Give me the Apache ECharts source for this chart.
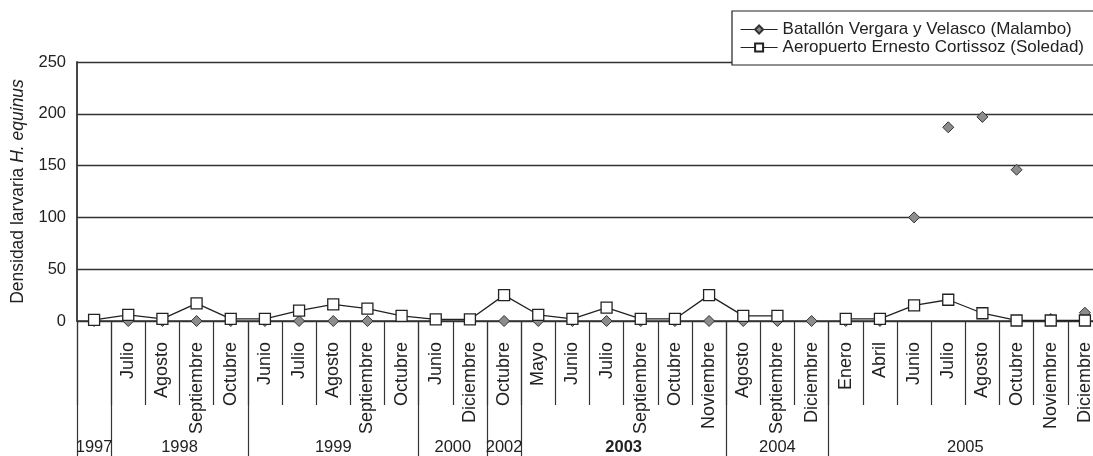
<!DOCTYPE html>
<html>
<head>
<meta charset="utf-8">
<script src="https://cdn.jsdelivr.net/npm/echarts@6/dist/echarts.min.js"></script>
<style>
html,body{margin:0;padding:0;background:#fff;overflow:hidden;width:1093px;height:456px;}
#c{width:1140px;height:456px;}
</style>
</head>
<body>
<div id="c"></div>
<script>
// ---- data ----
const months = ['', 'Julio', 'Agosto', 'Septiembre', 'Octubre',
  'Junio', 'Julio', 'Agosto', 'Septiembre', 'Octubre',
  'Junio', 'Diciembre', 'Octubre',
  'Mayo', 'Junio', 'Julio', 'Septiembre', 'Octubre', 'Noviembre',
  'Agosto', 'Septiembre', 'Diciembre',
  'Enero', 'Abril', 'Junio', 'Julio', 'Agosto', 'Octubre', 'Noviembre', 'Diciembre'];
const years = ['1997', '1998', '1998', '1998', '1998',
  '1999', '1999', '1999', '1999', '1999',
  '2000', '2000', '2002',
  '2003', '2003', '2003', '2003', '2003', '2003',
  '2004', '2004', '2004',
  '2005', '2005', '2005', '2005', '2005', '2005', '2005', '2005'];
const malambo = [0, 0, 0, 0, 0, 0, 0, 0, 0, null, null, null, 0, 0, 0, 0, 0, 0, 0, 0, 0, 0, 0, 0, 100, 187, 197, 146, 2, 8];
const soledad = [1, 6, 2, 17, 2, 2, 10, 16, 12, 5, 1.5, 1.5, 25, 6, 2, 13, 2, 2, 25, 5, 5, null, 2, 2, 15, 20.5, 7.5, 0.5, 0.5, 0.5];
const seriesNames = ['Batallón Vergara y Velasco (Malambo)', 'Aeropuerto Ernesto Cortissoz (Soledad)'];
const yTicks = [0, 50, 100, 150, 200, 250];
const boldYears = ['2003'];

// ---- derive year groups (half-slot axis: 2*N+1 points) ----
const N = months.length;
const yearAxisData = new Array(2 * N + 1).fill('');
const yearBoundaries = new Set();
let start = 0;
for (let i = 1; i <= N; i++) {
  if (i === N || years[i] !== years[start]) {
    yearAxisData[start + i] = years[start];
    yearBoundaries.add(2 * start);
    start = i;
  }
}
yearBoundaries.add(2 * N);

const FONT = 'Liberation Sans, Arial, Helvetica, sans-serif';
const DARK = '#222';

const chart = echarts.init(document.getElementById('c'), null, {renderer: 'canvas'});
chart.setOption({
  animation: false,
  backgroundColor: '#fff',
  textStyle: {fontFamily: FONT, color: DARK},
  grid: {left: 77, right: 38, top: 62, bottom: 133, containLabel: false},
  legend: {
    orient: 'vertical',
    left: 732, top: 11,
    padding: [10, 40, 9, 8],
    itemGap: 1,
    itemWidth: 37, itemHeight: 10,
    borderColor: '#222', borderWidth: 1.2,
    backgroundColor: '#fff',
    textStyle: {fontFamily: FONT, fontSize: 17, color: DARK, lineHeight: 16},
    lineStyle: {color: DARK, width: 1.2, opacity: 1},
    data: seriesNames
  },
  xAxis: [{
    type: 'category',
    data: months,
    boundaryGap: true,
    axisLine: {show: true, lineStyle: {color: '#333', width: 1.5}},
    axisTick: {show: true, interval: 0, length: 84, lineStyle: {color: '#333', width: 1.2}},
    axisLabel: {interval: 0, rotate: 90, margin: 21, fontFamily: FONT, fontSize: 18, color: DARK},
    splitLine: {show: false}
  }, {
    type: 'category',
    position: 'bottom',
    data: yearAxisData,
    boundaryGap: false,
    axisLine: {show: false},
    axisTick: {
      show: true, length: 140,
      interval: function (idx) { return yearBoundaries.has(idx); },
      lineStyle: {color: '#333', width: 1.2}
    },
    axisLabel: {
      interval: 0, margin: 118, fontFamily: FONT, fontSize: 16.5, color: DARK,
      formatter: function (v) { return boldYears.indexOf(v) >= 0 ? '{b|' + v + '}' : v; },
      rich: {b: {fontWeight: 'bold', fontSize: 16.5, fontFamily: FONT, color: DARK}}
    },
    splitLine: {show: false}
  }],
  yAxis: {
    type: 'value',
    min: yTicks[0], max: yTicks[yTicks.length - 1], interval: yTicks[1] - yTicks[0],
    axisLine: {show: true, lineStyle: {color: '#333', width: 1.8}},
    axisTick: {show: false},
    axisLabel: {margin: 11, fontFamily: FONT, fontSize: 16.5, color: DARK},
    splitLine: {show: true, lineStyle: {color: '#333', width: 1.3}},
    name: '{a|Densidad larvaria }{b|H. equinus}',
    nameLocation: 'middle',
    nameRotate: 90,
    nameGap: 50,
    nameTextStyle: {
      rich: {
        a: {fontFamily: FONT, fontSize: 17.5, color: DARK},
        b: {fontFamily: FONT, fontSize: 17.5, color: DARK, fontStyle: 'italic'}
      }
    }
  },
  series: [{
    name: seriesNames[0],
    type: 'line',
    data: malambo,
    symbol: 'diamond',
    symbolSize: 11,
    showAllSymbol: true,
    connectNulls: false,
    lineStyle: {opacity: 0, width: 0},
    itemStyle: {color: '#8c8c8c', borderColor: '#333', borderWidth: 1},
    z: 3
  }, {
    name: seriesNames[1],
    type: 'line',
    data: soledad,
    symbol: 'rect',
    symbolSize: 11,
    showAllSymbol: true,
    connectNulls: false,
    lineStyle: {color: DARK, width: 1.3},
    itemStyle: {color: '#fff', borderColor: DARK, borderWidth: 1.3},
    z: 4
  }]
});
</script>
</body>
</html>
